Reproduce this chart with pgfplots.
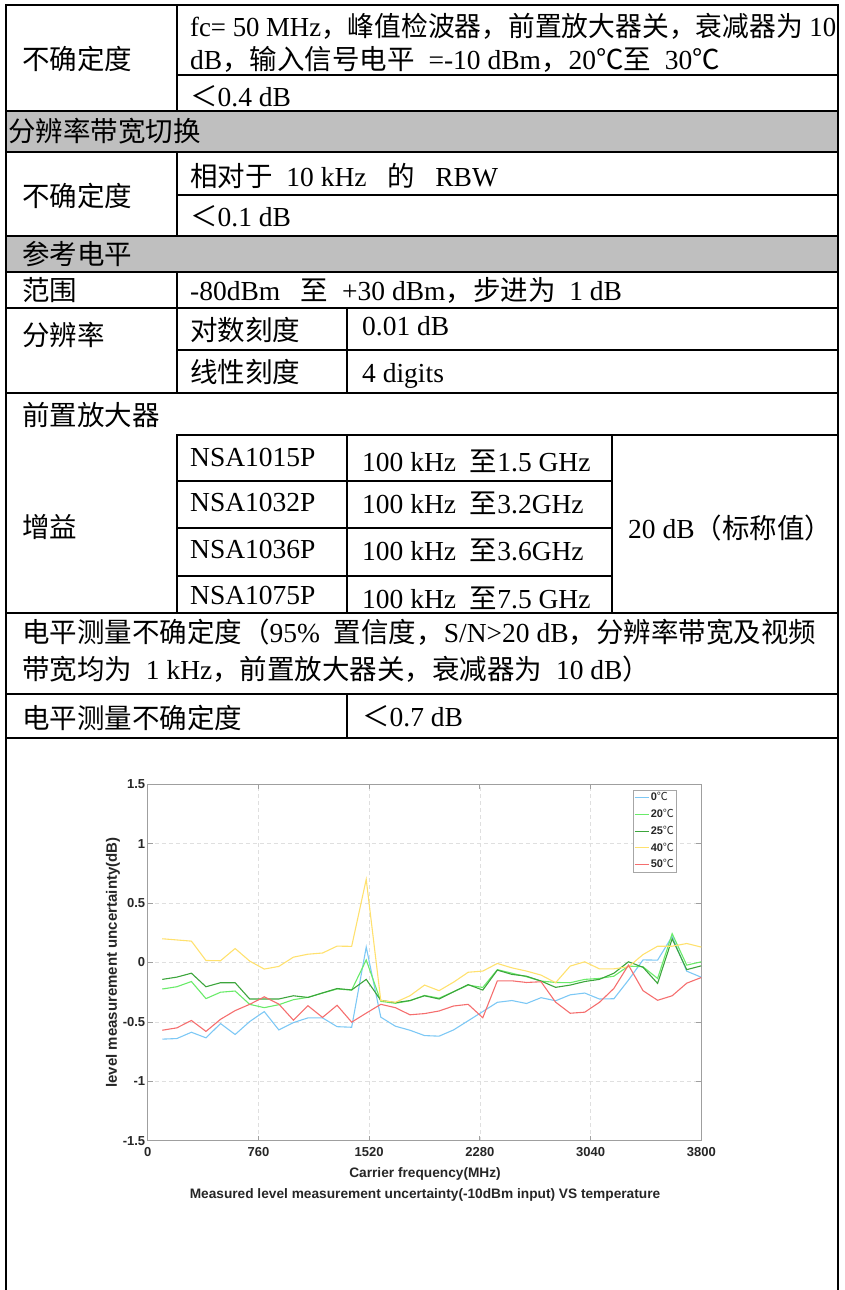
\documentclass[border=0pt]{standalone}
\usepackage{graphicx}
\usepackage{pgfplots}
\pgfplotsset{compat=1.18}
\usepackage{pgfplotstable}
\usepackage{fontspec}
\setmainfont{Liberation Serif}
\newfontfamily\cjk{Noto Sans CJK SC}
\newfontfamily\arial{Liberation Sans}
\newcommand\zh[1]{{\cjk #1}}

\definecolor{band}{RGB}{191,191,191}
\definecolor{c0}{RGB}{125,200,245}
\definecolor{c20}{RGB}{105,235,105}
\definecolor{c25}{RGB}{60,165,60}
\definecolor{c40}{RGB}{255,225,110}
\definecolor{c50}{RGB}{245,110,110}
\definecolor{txt}{RGB}{38,38,38}

% table lines: \hl[width]{y}{x1}{x2}, \vl[width]{x}{y1}{y2}
\newcommand\hl[4][1.3pt]{\draw[line width=#1,line cap=rect] (#3,-#2) -- (#4,-#2);}
\newcommand\vl[4][1.3pt]{\draw[line width=#1,line cap=rect] (#2,-#3) -- (#2,-#4);}
\newcommand\tx[3]{\node[tab] at (#1,{-#2-9.5}) {#3};}

\pgfplotstableread{
f     t0     t20    t25    t40    t50
100  -0.645 -0.223 -0.142  0.200 -0.570
200  -0.640 -0.204 -0.123  0.190 -0.550
300  -0.587 -0.160 -0.090  0.180 -0.488
400  -0.634 -0.304 -0.204  0.017 -0.580
500  -0.514 -0.250 -0.170  0.015 -0.478
600  -0.606 -0.240 -0.170  0.118 -0.405
700  -0.497 -0.352 -0.307  0.012 -0.352
800  -0.413 -0.380 -0.307 -0.055 -0.289
900  -0.567 -0.355 -0.307 -0.033 -0.350
1000 -0.506 -0.313 -0.280  0.045 -0.485
1100 -0.466 -0.293 -0.294  0.070 -0.364
1200 -0.466 -0.257 -0.256  0.080 -0.462
1300 -0.540 -0.223 -0.219  0.138 -0.360
1400 -0.545 -0.232 -0.231  0.136 -0.502
1500  0.130  0.022 -0.142  0.700 -0.426
1600 -0.460 -0.327 -0.318 -0.320 -0.352
1700 -0.536 -0.343 -0.338 -0.335 -0.380
1800 -0.570 -0.322 -0.320 -0.280 -0.440
1900 -0.615 -0.277 -0.280 -0.190 -0.430
2000 -0.620 -0.300 -0.307 -0.237 -0.408
2100 -0.567 -0.246 -0.246 -0.165 -0.366
2200 -0.490 -0.190 -0.186 -0.082 -0.352
2300 -0.413 -0.210 -0.232 -0.072 -0.465
2400 -0.335 -0.060 -0.064 -0.008 -0.154
2500 -0.320 -0.090 -0.100 -0.045 -0.154
2600 -0.345 -0.120 -0.115 -0.072 -0.168
2700 -0.296 -0.156 -0.156 -0.106 -0.162
2800 -0.322 -0.168 -0.209 -0.170 -0.334
2900 -0.272 -0.170 -0.190 -0.030 -0.427
3000 -0.257 -0.142 -0.160  0.006 -0.418
3100 -0.307 -0.134 -0.142 -0.053 -0.336
3200 -0.305 -0.115 -0.090 -0.053 -0.218
3300 -0.148 -0.030  0.006 -0.036 -0.022
3400  0.022 -0.036 -0.040  0.067 -0.237
3500  0.020 -0.134 -0.176  0.137 -0.318
3600  0.220  0.243  0.200  0.137 -0.280
3700 -0.073 -0.022 -0.060  0.160 -0.174
3800 -0.124  0.006 -0.028  0.130 -0.126
}\uncert

\begin{document}
\begin{tikzpicture}[x=1pt,y=1pt,
  tab/.style={anchor=base west,inner sep=0pt,font=\fontsize{27.5}{30}\selectfont}]
\path[use as bounding box] (0,0) rectangle (844,-1290);

% shaded header rows
\fill[band] (6,-111) rectangle (838,-152);
\fill[band] (6,-236) rectangle (838,-272);

% horizontal rules
\hl{5}{6}{838}
\hl{75}{177}{838}
\hl{111}{6}{838}
\hl{152}{6}{838}
\hl{195}{177}{838}
\hl[2.4pt]{236}{6}{838}
\hl[2.4pt]{272}{6}{838}
\hl[2.4pt]{308}{6}{838}
\hl{350}{177}{838}
\hl{393}{6}{838}
\hl[2.4pt]{393}{347}{838}
\hl{435}{612}{838}
\hl[2.4pt]{435}{177}{612}
\hl[2.4pt]{481}{177}{612}
\hl[2.4pt]{528}{177}{612}
\hl[2.4pt]{576}{177}{612}
\hl{613}{6}{838}
\hl[2.4pt]{613}{177}{612}
\hl{694}{6}{838}
\hl[2.4pt]{694}{347}{838}
\hl{738}{6}{838}
\hl[2.4pt]{738}{347}{838}

% vertical rules
\vl{6}{5}{1290}
\vl[2.4pt]{6}{236}{308}
\vl{838}{5}{1290}
\vl{177}{5}{111}
\vl{177}{152}{236}
\vl{177}{272}{393}
\vl[2.4pt]{177}{435}{613}
\vl{347}{308}{393}
\vl[2.4pt]{347}{435}{613}
\vl[2.4pt]{612}{435}{613}
\vl{347}{694}{738}

% table text
\tx{22}{60}{\zh{不确定度}}
\tx{190}{27}{\resizebox{646pt}{\height}{fc= 50 MHz\zh{，峰值检波器，前置放大器关，衰减器为} 10}}
\tx{190}{60}{dB\zh{，输入信号电平}\ \ =-10 dBm\zh{，}20\zh{℃至}\ \ 30\zh{℃}}
\tx{190}{97}{\zh{＜}0.4 dB}
\tx{8}{132}{\zh{分辨率带宽切换}}
\tx{22}{197}{\zh{不确定度}}
\tx{190}{177}{\zh{相对于}\ \ 10 kHz\ \ \ \zh{的}\ \ \ RBW}
\tx{190}{217}{\zh{＜}0.1 dB}
\tx{22}{255}{\zh{参考电平}}
\tx{22}{291}{\zh{范围}}
\tx{190}{291}{-80dBm\ \ \ \zh{至}\ \ +30 dBm\zh{，步进为}\ \ 1 dB}
\tx{22}{336}{\zh{分辨率}}
\tx{190}{331}{\zh{对数刻度}}
\tx{362}{326}{0.01 dB}
\tx{190}{373}{\zh{线性刻度}}
\tx{362}{373}{4 digits}
\tx{22}{416}{\zh{前置放大器}}
\tx{22}{528}{\zh{增益}}
\tx{190}{457}{NSA1015P}
\tx{362}{462}{100 kHz\ \ \zh{至}1.5 GHz}
\tx{190}{502}{NSA1032P}
\tx{362}{504}{100 kHz\ \ \zh{至}3.2GHz}
\tx{190}{549}{NSA1036P}
\tx{362}{551}{100 kHz\ \ \zh{至}3.6GHz}
\tx{190}{595}{NSA1075P}
\tx{362}{599}{100 kHz\ \ \zh{至}7.5 GHz}
\tx{628}{529}{20 dB\zh{（标称值）}}
\tx{22}{633}{\zh{电平测量不确定度（}95\%\ \ \zh{置信度，}S/N>20 dB\zh{，分辨率带宽及视频}}
\tx{22}{670}{\zh{带宽均为}\ \ 1 kHz\zh{，前置放大器关，衰减器为}\ \ 10 dB\zh{）}}
\tx{22}{719}{\zh{电平测量不确定度}}
\tx{362}{717}{\zh{＜}0.7 dB}

\begin{axis}[
  at={(147.7pt,-1140.7pt)}, anchor=south west,
  scale only axis, width=553.6pt, height=356.4pt,
  xmin=0, xmax=3800, ymin=-1.5, ymax=1.5,
  xtick={0,760,1520,2280,3040,3800},
  xticklabels={0,760,1520,2280,3040,3800},
  ytick={-1.5,-1,-0.5,0,0.5,1,1.5},
  yticklabels={-1.5,-1,-0.5,0,0.5,1,1.5},
  tick align=inside, major tick length=5pt,
  axis line style={gray!75, line width=0.9pt},
  tick style={gray!75, line width=0.8pt},
  grid=major,
  major grid style={gray!25, dash pattern=on 4pt off 3pt, line width=0.7pt},
  ticklabel style={font=\arial\bfseries\fontsize{13}{14}\selectfont, text=txt},
  xticklabel style={yshift=-3pt},
  yticklabel style={xshift=1pt},
  xlabel={Carrier frequency(MHz)},
  ylabel={level measurement uncertainty(dB)},
  xlabel style={font=\arial\bfseries\fontsize{13.7}{14}\selectfont, text=txt,
    at={(axis description cs:0.501,-0.0934)}, anchor=center},
  ylabel style={font=\arial\bfseries\fontsize{15}{16}\selectfont, text=txt,
    at={(axis description cs:-0.0627,0.5)}, anchor=center},
  legend style={at={(axis description cs:0.956,0.984)}, anchor=north east,
    draw=gray!70, line width=0.7pt, inner sep=1pt, row sep=4pt,
    font=\arial\bfseries\fontsize{11}{12}\selectfont, text=txt,
    nodes={inner sep=1.6pt, text height=8pt, text depth=1.5pt}},
  legend cell align=left,
  legend image code/.code={\draw[#1] (0pt,0pt) -- (14pt,0pt);},
  every axis plot/.append style={line width=1.1pt},
]
\addplot[c0, draw=c0]   table[x=f, y=t0]  {\uncert};
\addplot[c20, draw=c20] table[x=f, y=t20] {\uncert};
\addplot[c25, draw=c25] table[x=f, y=t25] {\uncert};
\addplot[c40, draw=c40] table[x=f, y=t40] {\uncert};
\addplot[c50, draw=c50] table[x=f, y=t50] {\uncert};
\legend{0\zh{\mdseries ℃},20\zh{\mdseries ℃},25\zh{\mdseries ℃},40\zh{\mdseries ℃},50\zh{\mdseries ℃}}
\end{axis}

\node[font=\arial\bfseries\fontsize{13.7}{14}\selectfont, text=txt] at (425,-1195)
  {Measured level measurement uncertainty(-10dBm input) VS temperature};
\end{tikzpicture}
\end{document}
